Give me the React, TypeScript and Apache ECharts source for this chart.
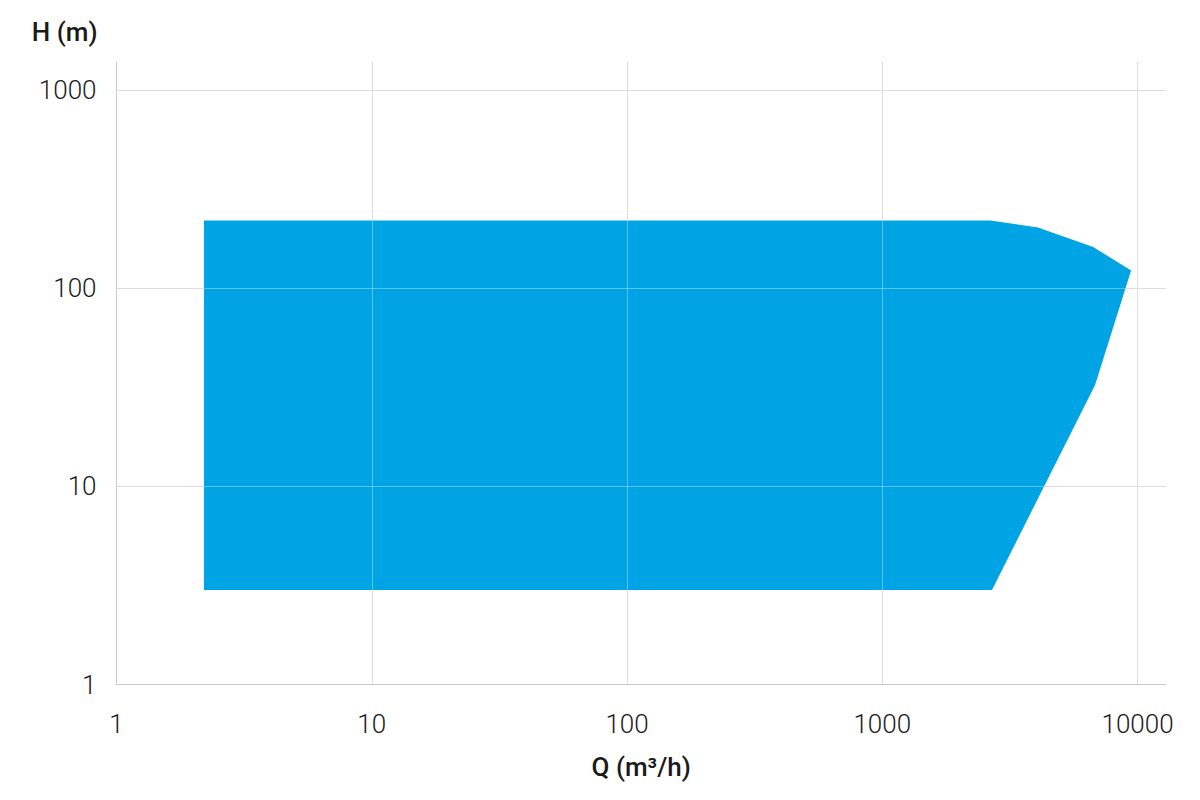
import React, { useEffect, useRef } from "react";
import * as echarts from "echarts";

// Operating envelope (pump range)
const envelopeQ = [2.2, 2650, 4075, 6700, 9435, 6820, 2690, 2.2];
const envelopeH = [220, 220, 203, 162, 123, 32.5, 3, 3];

// Axis ticks (log scale)
const qTicks = [1, 10, 100, 1000, 10000];
const hTicks = [1, 10, 100, 1000];
const qMax = 12930;
const hMax = 1390;

const FONT = "Roboto, 'Liberation Sans', Arial, sans-serif";
const GRID_COLOR = "#c9c9c9";
const FILL = "#00A3E3";

const isTick = (v: number, ticks: number[]) =>
  ticks.some((t) => Math.abs(Math.log10(v) - Math.log10(t)) < 1e-6);

export default function App() {
  const ref = useRef<HTMLDivElement>(null);

  useEffect(() => {
    if (!ref.current) return;
    const chart = echarts.init(ref.current, undefined, { renderer: "svg" });
    const points = envelopeQ.map((q, i) => [q, envelopeH[i]]);

    chart.setOption({
      animation: false,
      backgroundColor: "#ffffff",
      grid: { left: 116.5, right: 34, top: 62, bottom: 115.5, containLabel: false },
      xAxis: {
        type: "log",
        logBase: 10,
        min: qTicks[0],
        max: qMax,
        name: "Q (m³/h)",
        nameLocation: "middle",
        nameGap: 69,
        nameTextStyle: { fontFamily: FONT, fontSize: 26, fontWeight: 500, color: "#1a1a1a" },
        axisLine: { show: true, lineStyle: { color: GRID_COLOR, width: 1 } },
        axisTick: { show: false },
        axisLabel: {
          margin: 26,
          fontFamily: FONT,
          fontSize: 26,
          fontWeight: 300,
          color: "#1a1a1a",
          showMaxLabel: false,
          formatter: (v: number) => (isTick(v, qTicks) ? String(Math.round(v)) : ""),
        },
        splitLine: { show: true, showMaxLine: false, lineStyle: { color: GRID_COLOR, width: 1 } },
      },
      yAxis: {
        type: "log",
        logBase: 10,
        min: hTicks[0],
        max: hMax,
        name: "H (m)",
        nameLocation: "end",
        nameGap: 17,
        nameTextStyle: {
          fontFamily: FONT,
          fontSize: 26,
          fontWeight: 500,
          color: "#1a1a1a",
          align: "right",
          padding: [0, 19, 0, 0],
        },
        axisLine: { show: true, lineStyle: { color: GRID_COLOR, width: 1 } },
        axisTick: { show: false },
        axisLabel: {
          margin: 20,
          fontFamily: FONT,
          fontSize: 26,
          fontWeight: 300,
          color: "#1a1a1a",
          showMaxLabel: false,
          formatter: (v: number) => (isTick(v, hTicks) ? String(Math.round(v)) : ""),
        },
        splitLine: { show: true, showMaxLine: false, lineStyle: { color: GRID_COLOR, width: 1 } },
      },
      series: [
        {
          type: "custom",
          coordinateSystem: "cartesian2d",
          data: points,
          renderItem: (params: any, api: any) => {
            if (params.dataIndex !== 0) return null;
            const pts = points.map((p) => api.coord(p));
            return {
              type: "polygon",
              shape: { points: pts },
              style: { fill: FILL, stroke: "none" },
            };
          },
          silent: true,
          markLine: {
            silent: true,
            symbol: "none",
            label: { show: false },
            lineStyle: { color: "rgba(255,255,255,0.35)", type: "solid", width: 1 },
            data: [
              ...qTicks.slice(1).map((v) => ({ xAxis: v })),
              ...hTicks.slice(1).map((v) => ({ yAxis: v })),
            ],
          },
        },
      ],
    });

    return () => chart.dispose();
  }, []);

  return <div ref={ref} style={{ width: 1200, height: 800, margin: -8 }} />;
}
